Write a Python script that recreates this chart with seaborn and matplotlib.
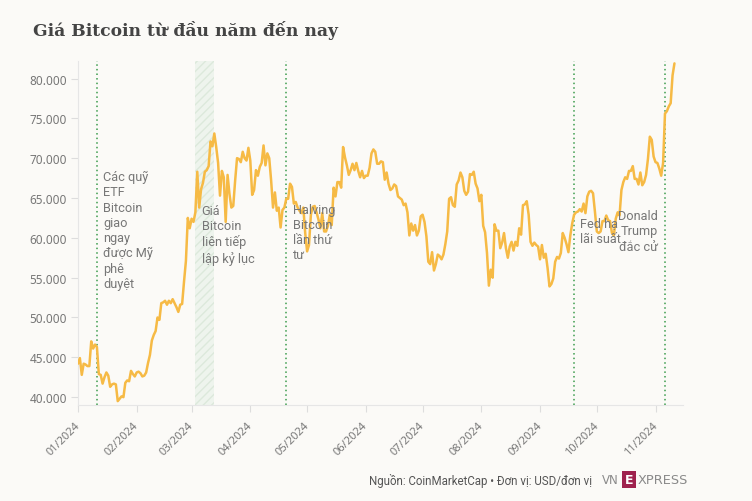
import matplotlib
matplotlib.use("Agg")
import matplotlib.pyplot as plt
from matplotlib.patches import Rectangle
from matplotlib.ticker import FuncFormatter
from matplotlib.transforms import ScaledTranslation
from matplotlib import font_manager
import seaborn as sns
import pandas as pd

title = "Giá Bitcoin từ đầu năm đến nay"
source = "Nguồn: CoinMarketCap • Đơn vị: USD/đơn vị"

start_date = "2024-01-01"
# daily closing prices, thousand USD
jan = [44.2, 44.9, 42.8, 44.2, 44.1, 43.9, 43.9, 47.0, 46.1, 46.6, 46.3, 42.9, 42.8, 41.7, 42.5, 43.1,
       42.7, 41.3, 41.6, 41.7, 41.6, 39.5, 39.8, 40.1, 40.0, 41.8, 42.1, 42.0, 43.3, 42.9, 42.6]
feb = [43.1, 43.2, 43.0, 42.6, 42.7, 43.1, 44.3, 45.3, 47.1, 47.8, 48.3, 50.0, 49.7, 51.8, 51.9,
       52.1, 51.6, 52.1, 51.8, 52.3, 51.8, 51.3, 50.7, 51.6, 51.7, 54.5, 57.1, 62.5, 61.2]
mar = [62.4, 62.0, 63.2, 68.3, 63.8, 66.1, 66.9, 68.3, 68.5, 69.0, 72.1, 71.5, 73.1, 71.4, 69.4, 65.3,
       68.4, 67.6, 62.0, 67.9, 65.5, 63.8, 64.0, 67.2, 70.0, 69.9, 69.5, 70.8, 70.0, 69.7, 71.3]
apr = [69.7, 65.4, 66.0, 68.5, 67.8, 68.9, 69.4, 71.6, 69.1, 70.6, 70.0, 67.2, 63.8, 65.7, 63.4,
       63.8, 61.3, 63.5, 63.8, 64.9, 64.9, 66.8, 66.4, 64.3, 64.5, 63.8, 63.4, 63.1, 63.8, 60.6]
may = [58.3, 59.1, 62.9, 63.9, 64.0, 63.2, 62.3, 61.2, 63.1, 60.8, 60.8, 61.5, 62.9, 61.6, 66.3, 65.2,
       67.0, 67.0, 66.3, 71.4, 70.1, 69.1, 67.9, 68.5, 69.3, 68.5, 69.4, 68.4, 67.6, 68.4, 67.5]
jun = [67.8, 67.8, 68.8, 70.6, 71.1, 70.8, 69.3, 69.3, 69.6, 69.5, 67.3, 68.2, 66.8, 66.0, 66.2,
       66.7, 66.5, 65.2, 65.0, 64.8, 64.1, 64.3, 63.2, 60.3, 61.8, 60.9, 61.6, 60.3, 60.9, 62.7]
jul = [62.9, 62.0, 60.2, 57.0, 56.7, 58.2, 55.9, 56.7, 57.9, 57.7, 57.3, 57.9, 59.2, 60.8, 64.9, 65.1,
       64.1, 63.9, 66.7, 67.2, 68.2, 67.6, 65.9, 65.4, 65.8, 68.0, 67.9, 68.3, 66.8, 66.2, 64.6]
aug = [65.4, 61.5, 60.7, 58.1, 54.0, 56.0, 55.0, 61.7, 60.9, 60.9, 58.7, 59.4, 60.6, 58.7, 57.5, 58.9,
       59.5, 58.4, 59.5, 59.0, 61.2, 60.4, 64.1, 64.2, 64.6, 62.9, 59.5, 59.0, 59.4, 59.1, 58.9]
sep = [57.3, 59.1, 57.5, 58.0, 56.2, 53.9, 54.2, 54.9, 57.0, 57.6, 57.4, 58.1, 60.6, 60.0, 59.2,
       58.2, 60.3, 61.8, 62.9, 63.2, 63.3, 63.6, 63.3, 64.3, 63.1, 65.2, 65.8, 65.9, 65.6, 63.3]
oct_ = [60.8, 60.6, 60.8, 62.1, 62.1, 62.8, 62.2, 62.1, 60.6, 60.3, 62.4, 63.2, 62.8, 66.0, 67.0, 67.6,
        67.4, 68.4, 68.4, 69.0, 67.4, 67.4, 66.7, 68.2, 66.6, 67.0, 67.9, 69.9, 72.7, 72.3, 70.2]
nov = [69.5, 69.4, 68.7, 67.8, 69.4, 75.6, 75.9, 76.5, 76.9, 80.4, 81.9]

event_dates = ["2024-01-11", "2024-04-20", "2024-09-19", "2024-11-06"]
event_labels = ["Các quỹ\nETF\nBitcoin\ngiao\nngay\nđược Mỹ\nphê\nduyệt",
                "Halving\nBitcoin\nlần thứ\ntư",
                "Fed hạ\nlãi suất",
                "Donald\nTrump\nđắc cử"]
event_label_y = [68500, 64400, 62700, 63600]
event_label_side = ["left", "left", "left", "right"]

record_span = ["2024-03-03", "2024-03-13"]
record_label = "Giá\nBitcoin\nliên tiếp\nlập kỷ lục"
record_label_y = 64300

y_ticks = [40000, 45000, 50000, 55000, 60000, 65000, 70000, 75000, 80000]
x_tick_labels = ["01/2024", "02/2024", "03/2024", "04/2024", "05/2024", "06/2024",
                 "07/2024", "08/2024", "09/2024", "10/2024", "11/2024"]

prices = [v * 1000 for v in jan + feb + mar + apr + may + jun + jul + aug + sep + oct_ + nov]
df = pd.DataFrame({"date": pd.date_range(start_date, periods=len(prices), freq="D"),
                   "price": prices})

BG = "#FBFAF7"
sns.set_theme(style="white")
avail = {f.name for f in font_manager.fontManager.ttflist}
plt.rcParams["font.family"] = ["Noto Sans", "DejaVu Sans"]
narrow = "Liberation Sans Narrow" if "Liberation Sans Narrow" in avail else "Roboto"

fig = plt.figure(figsize=(7.52, 5.02), dpi=100, facecolor=BG)
ax = fig.add_axes([0.1037, 0.191, 0.8043, 0.6855])
ax.set_facecolor(BG)

# record span
ax.axvspan(pd.Timestamp(record_span[0]), pd.Timestamp(record_span[1]),
           facecolor="#EEF4ED", edgecolor="#DCE9DB", hatch="////", linewidth=0, zorder=0)

sns.lineplot(data=df, x="date", y="price", ax=ax, color="#F6BA45", linewidth=1.8, zorder=3)

for d in event_dates:
    ax.axvline(pd.Timestamp(d), color="#3A9C4C", linestyle=(0, (1, 2)), linewidth=1.1, zorder=2)

ann_kw = dict(fontsize=9.2, color="#777777", va="top", linespacing=1.22, zorder=4,
              textcoords="offset points", family=["Roboto", "DejaVu Sans"])
for d, lab, yv, side in zip(event_dates, event_labels, event_label_y, event_label_side):
    dx = 4.5 if side == "left" else -5
    ax.annotate(lab, xy=(pd.Timestamp(d), yv), xytext=(dx, 0), ha=side, **ann_kw)
ax.annotate(record_label, xy=(pd.Timestamp(record_span[0]), record_label_y), xytext=(4.5, 0),
            ha="left", **ann_kw)

ax.set_xlim(pd.Timestamp("2024-01-01"), pd.Timestamp("2024-11-15 10:00"))
ax.set_ylim(39000, 82200)
ax.set_yticks(y_ticks)
ax.yaxis.set_major_formatter(FuncFormatter(lambda v, p: f"{int(v):,}".replace(",", ".")))
ax.set_xticks(pd.date_range("2024-01-01", periods=len(x_tick_labels), freq="MS"))
ax.set_xticklabels(x_tick_labels, rotation=45, ha="right")
ax.set_xlabel("")
ax.set_ylabel("")
ax.tick_params(axis="both", colors="#DDDDDD", labelcolor="#777777", labelsize=8.5,
               length=5, width=0.8, left=True, bottom=True)
ax.tick_params(axis="x", labelsize=8, pad=2)
ax.tick_params(axis="y", pad=3)
shift = ScaledTranslation(4 / 100, -5 / 100, fig.dpi_scale_trans)
for lbl in ax.get_xticklabels():
    lbl.set_transform(lbl.get_transform() + shift)
for s in ["top", "right"]:
    ax.spines[s].set_visible(False)
for s in ["left", "bottom"]:
    ax.spines[s].set_color("#E6E6E6")
    ax.spines[s].set_linewidth(0.8)
ax.grid(False)

fig.text(33 / 752, 1 - 31 / 502, title, fontsize=12.3, fontweight="bold", color="#444444",
         family=["DejaVu Serif"], va="center", ha="left")

fig.text(592 / 752, 1 - 481 / 502, source, fontsize=8.3, color="#555555",
         family=[narrow, "DejaVu Sans"], va="center", ha="right")
# VnExpress logo
fig.text(602 / 752, 1 - 481 / 502, "VN", fontsize=8.5, color="#8A8A8A",
         family=["DejaVu Sans"], va="center", ha="left")
fig.patches.append(Rectangle((622 / 752, 1 - 489 / 502), 14 / 752, 17 / 502,
                             transform=fig.transFigure, facecolor="#9F224E",
                             edgecolor="none"))
fig.text(629 / 752, 1 - 481 / 502, "E", fontsize=9, color="white", fontweight="bold",
         family=["DejaVu Sans"], va="center", ha="center")
fig.text(638 / 752, 1 - 481 / 502, "XPRESS", fontsize=9.3, color="#8A8A8A",
         family=["DejaVu Sans"], va="center", ha="left")

fig.savefig("out.png", dpi=100, facecolor=BG)
